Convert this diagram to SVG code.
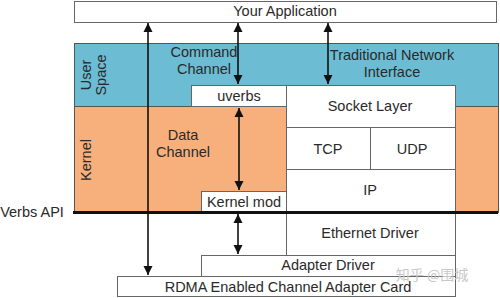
<svg xmlns="http://www.w3.org/2000/svg" width="500" height="298" viewBox="0 0 500 298">
<defs>
<marker id="ah" viewBox="0 0 10 10" refX="10" refY="5" markerWidth="9" markerHeight="13" markerUnits="userSpaceOnUse" orient="auto-start-reverse"><path d="M0,0 L10,5 L0,10 Z" fill="#111"/></marker>
<style>
text{font-family:"Liberation Sans",Arial,sans-serif;font-size:14.5px;fill:#2a2a2a;text-anchor:middle;dominant-baseline:central}
.box{fill:#fff;stroke:#666;stroke-width:1}
.band{stroke:#555;stroke-width:1}
.arr{stroke:#111;stroke-width:1.6;fill:none;marker-start:url(#ah);marker-end:url(#ah)}
</style>
</defs>
<rect width="500" height="298" fill="#fff"/>
<g id="user-space">
<rect class="band" x="74.5" y="43.5" width="424" height="63" fill="#6cbcd4"/>
<text transform="translate(86,75) rotate(-90)">User</text>
<text transform="translate(101,75) rotate(-90)">Space</text>
</g>
<g id="kernel-space">
<rect class="band" x="74.5" y="106.5" width="424" height="106" fill="#f7b07b"/>
<text transform="translate(86,160) rotate(-90)">Kernel</text>
</g>
<g id="app"><rect class="box" x="74.5" y="1.5" width="422" height="21"/><text x="285" y="11">Your Application</text></g>
<g id="uverbs"><rect class="box" x="191.5" y="85.5" width="95" height="21"/><text x="239" y="96">uverbs</text></g>
<g id="socket"><rect class="box" x="286.5" y="85.5" width="169" height="42"/><text x="370" y="106">Socket Layer</text></g>
<g id="tcp"><rect class="box" x="286.5" y="127.5" width="84" height="42"/><text x="328" y="149">TCP</text></g>
<g id="udp"><rect class="box" x="370.5" y="127.5" width="85" height="42"/><text x="412" y="149">UDP</text></g>
<g id="ip"><rect class="box" x="286.5" y="169.5" width="169" height="43"/><text x="370" y="190">IP</text></g>
<g id="kmod"><rect class="box" x="201.5" y="191.5" width="85" height="21"/><text x="244" y="202">Kernel mod</text></g>
<g id="eth"><rect class="box" x="286.5" y="212.5" width="169" height="43"/><text x="370" y="233">Ethernet Driver</text></g>
<g id="adapter"><rect class="box" x="201.5" y="255.5" width="254" height="21"/><text x="328" y="265">Adapter Driver</text></g>
<g id="rdma"><rect class="box" x="117.5" y="276.5" width="338" height="20"/><text x="288" y="287">RDMA Enabled Channel Adapter Card</text></g>
<g id="verbs-api">
<line x1="73" y1="212.5" x2="498" y2="212.5" stroke="#111" stroke-width="3"/>
<text x="32" y="212">Verbs API</text>
</g>
<g id="labels">
<text x="204" y="52">Command</text><text x="204" y="69">Channel</text>
<text x="392" y="55">Traditional Network</text><text x="392" y="72">Interface</text>
<text x="183" y="135">Data</text><text x="183" y="152">Channel</text>
</g>
<g id="connectors">
<line class="arr" x1="148" y1="23" x2="148" y2="275"/>
<line class="arr" x1="238" y1="23" x2="238" y2="84"/>
<line class="arr" x1="239" y1="108" x2="239" y2="190"/>
<line class="arr" x1="238" y1="214" x2="238" y2="254"/>
<line class="arr" x1="328" y1="23" x2="328" y2="84"/>
</g>
<g id="watermark"><text x="432" y="274" style="fill:#c8c8c8;font-family:'Noto Sans CJK SC',sans-serif;font-size:14px">知乎 @围城</text></g>
</svg>
